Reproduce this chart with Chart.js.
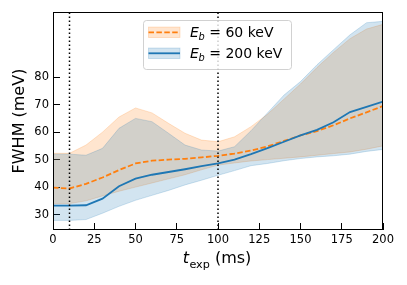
<!DOCTYPE html>
<html>
<head>
<meta charset="utf-8">
<script src="https://cdn.jsdelivr.net/npm/chart.js@4/dist/chart.umd.min.js"></script>
<style>
  html, body { margin: 0; padding: 0; background: #fff; }
  #wrap { width: 407px; height: 285px; }
</style>
</head>
<body>
<div id="wrap"><canvas id="c" width="407" height="285"></canvas></div>
<script>
// ---- data ----
const tExp = [0, 10, 20, 30, 40, 50, 60, 70, 80, 90, 100, 110, 120, 130, 140, 150, 160, 170, 180, 190, 200];
const mean60  = [39.8, 39.5, 41.2, 43.5, 46.2, 48.6, 49.6, 50.0, 50.3, 50.8, 51.4, 52.2, 53.3, 54.8, 56.8, 58.8, 60.4, 62.5, 65.0, 67.2, 69.5];
const lower60 = [34.0, 34.0, 35.0, 36.8, 38.5, 40.0, 41.5, 43.0, 44.5, 46.3, 48.0, 48.8, 49.5, 50.0, 50.5, 51.0, 51.6, 52.2, 52.8, 53.8, 55.0];
const upper60 = [52.3, 52.3, 55.3, 60.0, 65.5, 68.8, 67.0, 63.2, 59.6, 57.1, 56.5, 58.3, 62.0, 66.5, 72.0, 77.5, 83.5, 89.0, 94.0, 97.5, 99.2];
const mean200  = [33.3, 33.3, 33.4, 35.8, 40.3, 43.1, 44.5, 45.5, 46.5, 47.6, 48.6, 50.0, 52.0, 54.2, 56.5, 58.8, 60.8, 63.6, 67.3, 69.2, 71.1];
const lower200 = [27.9, 27.9, 28.2, 30.5, 33.0, 35.2, 37.0, 38.8, 40.8, 42.5, 44.3, 46.0, 47.8, 48.6, 49.6, 50.4, 51.0, 51.4, 52.0, 53.0, 53.7];
const upper200 = [52.0, 52.0, 51.6, 54.1, 61.4, 65.0, 63.8, 59.6, 55.3, 53.5, 53.1, 54.7, 60.5, 67.0, 73.5, 78.4, 84.5, 90.0, 95.4, 99.8, 100.3];
const vLines = [10, 100];
const xTicks = [0, 25, 50, 75, 100, 125, 150, 175, 200];
const yTicks = [30, 40, 50, 60, 70, 80];
const X_MIN = 0, X_MAX = 200, Y_MIN = 24.4, Y_MAX = 103.7;
const legendLabels = [{ sub: 'b', rest: ' = 60 keV' }, { sub: 'b', rest: ' = 200 keV' }];

const ORANGE = '#ff7f0e', BLUE = '#1f77b4';
const ORANGE_FILL = 'rgba(255,127,14,0.2)', BLUE_FILL = 'rgba(31,119,180,0.2)';
const ORANGE_EDGE = 'rgba(255,127,14,0.25)', BLUE_EDGE = 'rgba(31,119,180,0.25)';
const FONT = "'DejaVu Sans', sans-serif";

const pts = (arr) => arr.map((v, i) => ({ x: tExp[i], y: v }));

const datasets = [
  { label: 'mean60', data: pts(mean60), borderColor: ORANGE, borderWidth: 1.8, borderDash: [5.5, 2.4], pointRadius: 0, fill: false, order: 1 },
  { label: 'mean200', data: pts(mean200), borderColor: BLUE, borderWidth: 1.8, pointRadius: 0, fill: false, order: 0 },
  { label: 'lower60', data: pts(lower60), borderColor: ORANGE_EDGE, borderWidth: 0.8, pointRadius: 0, fill: false, order: 5 },
  { label: 'upper60', data: pts(upper60), borderColor: ORANGE_EDGE, borderWidth: 0.8, pointRadius: 0, fill: 2, backgroundColor: ORANGE_FILL, order: 4 },
  { label: 'lower200', data: pts(lower200), borderColor: BLUE_EDGE, borderWidth: 0.8, pointRadius: 0, fill: false, order: 3 },
  { label: 'upper200', data: pts(upper200), borderColor: BLUE_EDGE, borderWidth: 0.8, pointRadius: 0, fill: 4, backgroundColor: BLUE_FILL, order: 2 },
];
vLines.forEach((xv, i) => {
  datasets.push({ label: 'vline' + i, data: [{ x: xv, y: Y_MIN }, { x: xv, y: Y_MAX }], borderColor: '#000', borderWidth: 1.5, borderDash: [1.5, 2.5], pointRadius: 0, fill: false, order: -1 });
});

const framePlugin = {
  id: 'frame',
  afterDatasetsDraw(chart) {
    const { ctx, chartArea: a } = chart;
    ctx.save();
    ctx.strokeStyle = '#000';
    ctx.lineWidth = 1;
    ctx.strokeRect(Math.round(a.left) + 0.5, Math.round(a.top) + 0.5, Math.round(a.right - a.left) - 1, Math.round(a.bottom - a.top) - 1);
    ctx.restore();
  }
};

const textPlugin = {
  id: 'texts',
  afterDraw(chart) {
    const { ctx, chartArea: a } = chart;
    ctx.save();
    // x-axis title: t_exp (ms)
    const fs = 16;
    ctx.fillStyle = '#000';
    ctx.textBaseline = 'alphabetic';
    ctx.textAlign = 'left';
    ctx.font = `italic ${fs}px ${FONT}`;
    const wT = ctx.measureText('t').width;
    ctx.font = `${fs * 0.7}px ${FONT}`;
    const wS = ctx.measureText('exp').width;
    ctx.font = `${fs}px ${FONT}`;
    const wR = ctx.measureText(' (ms)').width;
    const total = wT + 0.5 + wS + wR;
    let x = (a.left + a.right) / 2 - 1 - total / 2;
    const base = 263;
    ctx.font = `italic ${fs}px ${FONT}`;
    ctx.fillText('t', x, base); x += wT + 0.5;
    ctx.font = `${fs * 0.7}px ${FONT}`;
    ctx.fillText('exp', x, base + 4.5); x += wS;
    ctx.font = `${fs}px ${FONT}`;
    ctx.fillText(' (ms)', x, base);

    // legend
    const bx = 143.5, by = 20.5, bw = 148, bh = 49;
    ctx.beginPath();
    if (ctx.roundRect) ctx.roundRect(bx, by, bw, bh, 3); else ctx.rect(bx, by, bw, bh);
    ctx.fillStyle = 'rgba(255,255,255,0.8)';
    ctx.fill();
    ctx.strokeStyle = 'rgba(204,204,204,0.9)';
    ctx.lineWidth = 1;
    ctx.stroke();

    const rows = [
      { cy: 32.3, fill: ORANGE_FILL, edge: ORANGE_EDGE, line: ORANGE, dash: [5.5, 2.4] },
      { cy: 53.3, fill: BLUE_FILL, edge: BLUE_EDGE, line: BLUE, dash: [] },
    ];
    rows.forEach((r, i) => {
      const sx = 148.5, sw = 31.5, sh = 10.5;
      ctx.fillStyle = r.fill;
      ctx.fillRect(sx, r.cy - sh / 2, sw, sh);
      ctx.strokeStyle = r.edge;
      ctx.lineWidth = 0.8;
      ctx.strokeRect(sx, r.cy - sh / 2, sw, sh);
      ctx.beginPath();
      ctx.setLineDash(r.dash);
      ctx.strokeStyle = r.line;
      ctx.lineWidth = 1.8;
      ctx.moveTo(sx, r.cy);
      ctx.lineTo(sx + sw, r.cy);
      ctx.stroke();
      ctx.setLineDash([]);

      const lf = 14;
      const tb = r.cy + 5.1;
      let tx = 190;
      ctx.fillStyle = '#000';
      ctx.font = `italic ${lf}px ${FONT}`;
      ctx.fillText('E', tx, tb); tx += ctx.measureText('E').width - 0.3;
      ctx.font = `italic ${lf * 0.7}px ${FONT}`;
      ctx.fillText(legendLabels[i].sub, tx, tb + 3); tx += ctx.measureText(legendLabels[i].sub).width;
      ctx.font = `${lf}px ${FONT}`;
      ctx.fillText(legendLabels[i].rest, tx, tb);
    });
    ctx.restore();
  }
};

new Chart(document.getElementById('c'), {
  type: 'line',
  data: { datasets },
  options: {
    responsive: false,
    animation: false,
    layout: { padding: { left: 0, right: 24, top: 12, bottom: 0 } },
    plugins: { legend: { display: false }, tooltip: { enabled: false } },
    scales: {
      x: {
        type: 'linear', min: X_MIN, max: X_MAX,
        afterBuildTicks: (s) => { s.ticks = xTicks.map(v => ({ value: v })); },
        afterFit: (s) => { s.height = 55; s.paddingLeft = 0; s.paddingRight = 0; },
        grid: { drawOnChartArea: false, drawTicks: true, tickLength: -7, tickColor: '#000', tickWidth: 1 },
        border: { display: false },
        ticks: { color: '#000', font: { family: FONT, size: 11.5 }, padding: 10.5, maxRotation: 0, autoSkip: false }
      },
      y: {
        type: 'linear', min: Y_MIN, max: Y_MAX,
        afterBuildTicks: (s) => { s.ticks = yTicks.map(v => ({ value: v })); },
        afterFit: (s) => { s.width = 53; s.paddingTop = 0; s.paddingBottom = 0; },
        grid: { drawOnChartArea: false, drawTicks: true, tickLength: -7, tickColor: '#000', tickWidth: 1 },
        border: { display: false },
        ticks: { color: '#000', font: { family: FONT, size: 11.5 }, padding: 11, autoSkip: false },
        title: { display: true, text: 'FWHM (meV)', color: '#000', font: { family: FONT, size: 16 }, padding: { top: 10, bottom: 0 } }
      }
    }
  },
  plugins: [framePlugin, textPlugin]
});
</script>
</body>
</html>
